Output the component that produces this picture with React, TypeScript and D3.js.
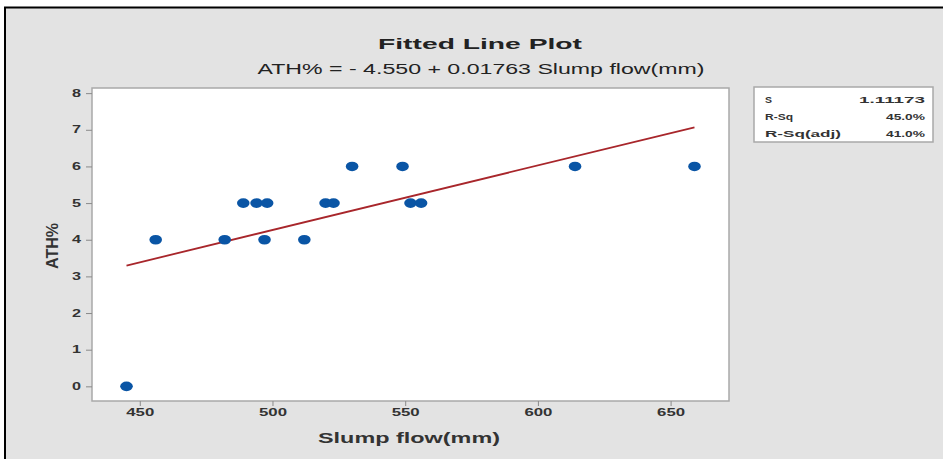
import React, { useRef, useEffect } from "react";
import * as d3 from "d3";

// Datos (Minitab, Fitted Line Plot)
const slumpFlow = [445, 456, 482, 489, 494, 498, 497, 512, 520, 523, 530, 549, 552, 556, 614, 659];
const athPct = [0, 4, 4, 5, 5, 5, 4, 4, 5, 5, 6, 6, 5, 5, 6, 6];
const intercept = -4.55;
const slope = 0.01763;
const xTicks = [450, 500, 550, 600, 650];
const yTicks = [0, 1, 2, 3, 4, 5, 6, 7, 8];
const statLabels = ["S", "R-Sq", "R-Sq(adj)"];
const statValues = ["1.11173", "45.0%", "41.0%"];

const width = 943;
const height = 459;
const font = "Arial, 'Liberation Sans', sans-serif";

const App = () => {
  const ref = useRef<SVGSVGElement>(null);

  useEffect(() => {
    const container = ref.current;
    if (!container) return;
    d3.select(container).selectChildren().remove();

    const svg = d3.select(container);
    const plot = { left: 92, right: 729, top: 88, bottom: 401 };

    const x = d3.scaleLinear().domain([432, 672]).range([plot.left, plot.right]);
    const y = d3.scaleLinear().domain([-0.4, 8.14]).range([plot.bottom, plot.top]);

    // Fondo blanco + marco negro
    svg.append("rect").attr("width", width).attr("height", height).attr("fill", "#ffffff");
    svg
      .append("rect")
      .attr("x", 5)
      .attr("y", 7.5)
      .attr("width", width + 10)
      .attr("height", height + 10)
      .attr("fill", "#e3e3e3")
      .attr("stroke", "#000")
      .attr("stroke-width", 2);

    // Títulos
    svg
      .append("text")
      .attr("x", 480)
      .attr("y", 49)
      .attr("text-anchor", "middle")
      .attr("font-family", font)
      .attr("font-weight", "bold")
      .attr("font-size", 15)
      .attr("fill", "#222")
      .attr("textLength", 204)
      .attr("lengthAdjust", "spacingAndGlyphs")
      .text("Fitted Line Plot");
    svg
      .append("text")
      .attr("x", 481)
      .attr("y", 74)
      .attr("text-anchor", "middle")
      .attr("font-family", font)
      .attr("font-size", 15)
      .attr("fill", "#222")
      .attr("textLength", 447)
      .attr("lengthAdjust", "spacingAndGlyphs")
      .text("ATH% = - 4.550 + 0.01763 Slump flow(mm)");

    // Área de trazado
    svg
      .append("rect")
      .attr("x", plot.left)
      .attr("y", plot.top)
      .attr("width", plot.right - plot.left)
      .attr("height", plot.bottom - plot.top)
      .attr("fill", "#ffffff")
      .attr("stroke", "#a9a9a9")
      .attr("stroke-width", 1.5);

    // Ejes
    const xAxis = svg
      .append("g")
      .attr("transform", `translate(0, ${plot.bottom})`)
      .call(d3.axisBottom(x).tickValues(xTicks).tickSize(5).tickPadding(3));
    const yAxis = svg
      .append("g")
      .attr("transform", `translate(${plot.left}, 0)`)
      .call(d3.axisLeft(y).tickValues(yTicks).tickSize(6).tickPadding(5));
    [xAxis, yAxis].forEach((a) => {
      a.select(".domain").remove();
      a.selectAll(".tick line").attr("stroke", "#8a8a8a");
      a.selectAll(".tick text")
        .attr("font-family", font)
        .attr("font-weight", "bold")
        .attr("font-size", 10)
        .attr("fill", "#333")
        .attr("lengthAdjust", "spacingAndGlyphs");
    });
    xAxis.selectAll(".tick text").attr("textLength", 28);
    yAxis.selectAll(".tick text").attr("textLength", 9);

    // Etiquetas de ejes
    svg
      .append("text")
      .attr("x", 409)
      .attr("y", 443)
      .attr("text-anchor", "middle")
      .attr("font-family", font)
      .attr("font-weight", "bold")
      .attr("font-size", 15)
      .attr("fill", "#333")
      .attr("textLength", 182)
      .attr("lengthAdjust", "spacingAndGlyphs")
      .text("Slump flow(mm)");
    svg
      .append("text")
      .attr("transform", `translate(58, 246) rotate(-90)`)
      .attr("text-anchor", "middle")
      .attr("font-family", font)
      .attr("font-weight", "bold")
      .attr("font-size", 16)
      .attr("fill", "#333")
      .attr("textLength", 46)
      .attr("lengthAdjust", "spacingAndGlyphs")
      .text("ATH%");

    // Recta ajustada
    const [xmin, xmax] = d3.extent(slumpFlow) as [number, number];
    const line = d3
      .line<number>()
      .x((d) => x(d))
      .y((d) => y(intercept + slope * d));
    svg
      .append("path")
      .attr("d", line([xmin, xmax]))
      .attr("fill", "none")
      .attr("stroke", "#a8262b")
      .attr("stroke-width", 1.8);

    // Puntos
    svg
      .append("g")
      .selectAll("ellipse")
      .data(slumpFlow)
      .enter()
      .append("ellipse")
      .attr("cx", (d) => x(d))
      .attr("cy", (_d, i) => y(athPct[i]))
      .attr("rx", 6.3)
      .attr("ry", 4.8)
      .attr("fill", "#0a55a5");

    // Caja de estadísticos
    const box = svg.append("g").attr("transform", "translate(754, 87)");
    box
      .append("rect")
      .attr("width", 179)
      .attr("height", 55)
      .attr("fill", "#ffffff")
      .attr("stroke", "#a9a9a9")
      .attr("stroke-width", 1.5);
    const labelLen = [7, 28, 76];
    const valueLen = [66, 39, 39];
    statLabels.forEach((lab, i) => {
      box
        .append("text")
        .attr("x", 11)
        .attr("y", 16 + i * 17)
        .attr("font-family", font)
        .attr("font-weight", "bold")
        .attr("font-size", 9)
        .attr("fill", "#333")
        .attr("textLength", labelLen[i])
        .attr("lengthAdjust", "spacingAndGlyphs")
        .text(lab);
      box
        .append("text")
        .attr("x", 171)
        .attr("y", 16 + i * 17)
        .attr("text-anchor", "end")
        .attr("font-family", font)
        .attr("font-weight", "bold")
        .attr("font-size", 9)
        .attr("fill", "#333")
        .attr("textLength", valueLen[i])
        .attr("lengthAdjust", "spacingAndGlyphs")
        .text(statValues[i]);
    });
  }, []);

  return (
    <svg
      ref={ref}
      width={width}
      height={height}
      style={{ position: "absolute", left: 0, top: 0, display: "block" }}
    />
  );
};

export default App;
